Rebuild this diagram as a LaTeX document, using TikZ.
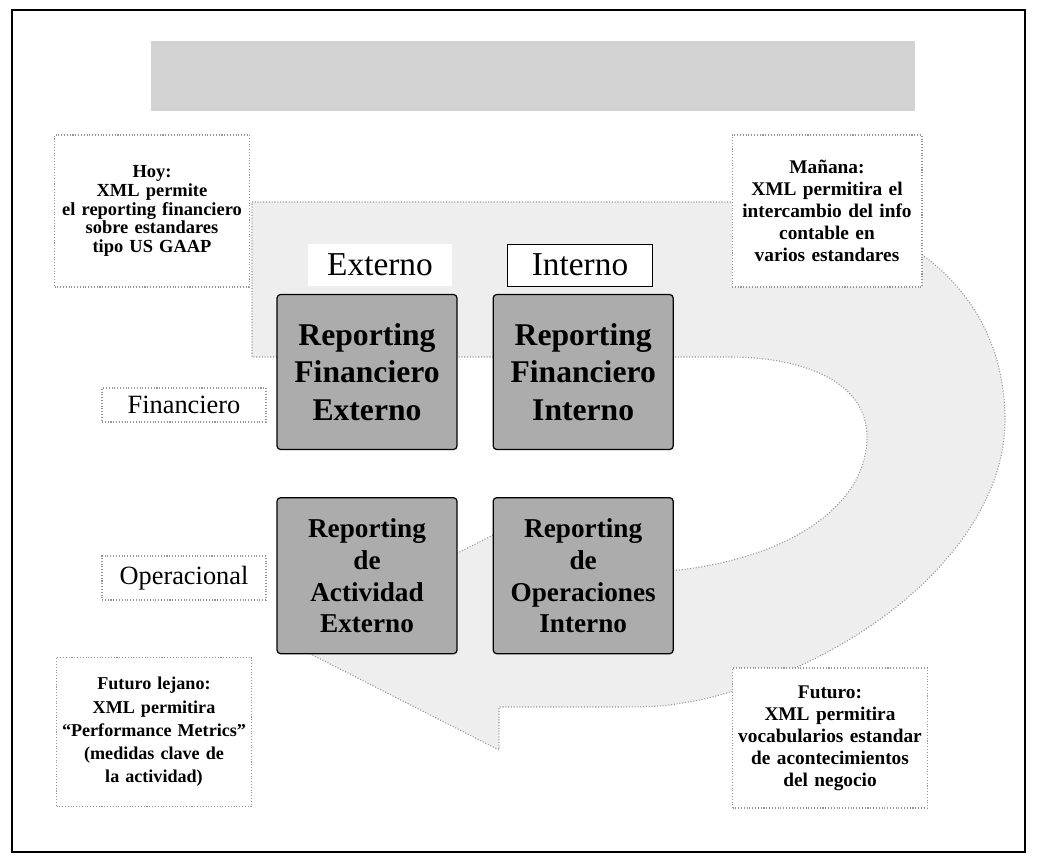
\documentclass[tikz,border=0pt]{standalone}
\usepackage{fontspec}
\setmainfont{Liberation Serif}
\usepackage{tikz}
\usetikzlibrary{positioning}
\definecolor{mygris}{RGB}{150,150,150}
\definecolor{myfondo}{RGB}{238,238,238}
\definecolor{mytitulo}{RGB}{210,210,210}
\definecolor{mycaja}{RGB}{172,172,172}
\tikzset{
  bigbox/.style={rectangle, draw=black, fill=mycaja, minimum width=3.6cm,
    minimum height=3.1cm, text width=3.5cm, align=center, inner sep=0pt,
    rounded corners=2pt, line width=0.7pt,
    font=\fontsize{18}{21.5}\selectfont\bfseries},
  lowbox/.style={bigbox, minimum height=3.12cm,
    font=\fontsize{15.5}{18.2}\selectfont\bfseries},
  nota/.style={rectangle, draw=mygris, densely dotted, fill=white,
    minimum width=3.9cm, minimum height=3.04cm, text width=3.85cm,
    align=center, inner sep=0pt, line width=0.6pt,
    font=\fontsize{11}{12.5}\selectfont\bfseries},
  columna/.style={rectangle, draw=black, fill=white, minimum width=2.9cm,
    minimum height=0.84cm, inner sep=0pt, line width=0.5pt,
    font=\fontsize{19}{22}\selectfont},
  fila/.style={rectangle, draw=mygris, densely dotted, fill=white,
    minimum width=3.28cm, inner sep=0pt, line width=0.6pt,
    font=\fontsize{15}{18}\selectfont},
  flecha/.style={draw=mygris, densely dotted, fill=myfondo, line width=0.6pt},
  titulo/.style={rectangle, fill=mytitulo, minimum width=15.3cm,
    minimum height=1.4cm, inner sep=0pt}
}

\begin{document}
\begin{tikzpicture}[x=0.02cm, y=-0.02cm]
  \useasboundingbox (0,0) rectangle (1037,862);
  \draw[line width=0.8pt] (12,10) rectangle (1025,852);

  \node[titulo] (titulo) at (533,76) {};

  \draw[flecha] (252,202) -- (735,202)
    .. controls (900,202) and (1005,290) .. (1005,420)
    .. controls (1005,540) and (870,660) .. (700,700)
    .. controls (660,707) .. (600,707) -- (499,707) -- (499,750)
    -- (285,641) -- (499,532) -- (499,572) -- (680,570)
    .. controls (800,555) and (867,500) .. (867,437)
    .. controls (867,380) and (800,357) .. (730,357) -- (252,357) -- cycle;

  \node[nota, font=\fontsize{10.5}{10.6}\selectfont\bfseries] (hoy) at (152,211)
    {Hoy:\\XML permite\\el reporting financiero\\sobre estandares\\tipo US GAAP};
  \node[nota, minimum width=3.8cm, text width=3.7cm] (manana) at (827,211)
    {Mañana:\\XML permitira el\\intercambio del info\\contable en\\varios estandares};
  \node[nota, minimum height=2.98cm, font=\fontsize{10.3}{13.2}\selectfont\bfseries] (lejano) at (154,732)
    {Futuro lejano:\\XML permitira\\``Performance Metrics''\\(medidas clave de\\la actividad)};
  \node[nota, minimum height=2.8cm] (futuro) at (830,738)
    {Futuro:\\XML permitira\\vocabularios estandar\\de acontecimientos\\del negocio};

  \node[columna, draw=none] (externo) at (380,265) {Externo};
  \node[columna] (interno) at (580,265) {Interno};

  \node[bigbox] (rfe) at (367,372) {Reporting\\Financiero\\Externo};
  \node[bigbox, right=0.7cm of rfe] (rfi) {Reporting\\Financiero\\Interno};
  \node[lowbox, below=0.94cm of rfe] (rae) {Reporting\\de\\Actividad\\Externo};
  \node[lowbox, below=0.94cm of rfi] (roi) {Reporting\\de\\Operaciones\\Interno};

  \node[fila, minimum height=0.68cm] (financiero) at (184,405) {Financiero};
  \node[fila, minimum height=0.88cm] (operacional) at (184,578) {Operacional};
\end{tikzpicture}
\end{document}
